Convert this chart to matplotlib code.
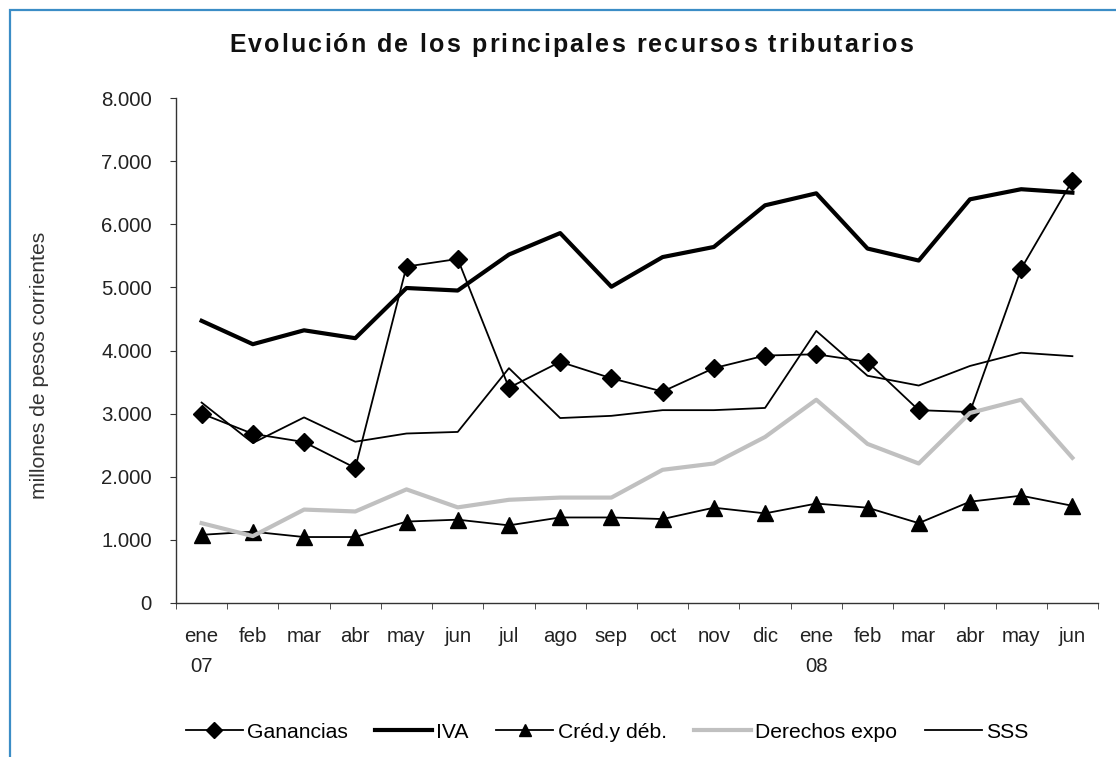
import matplotlib
matplotlib.use("Agg")
import matplotlib.pyplot as plt
from matplotlib.patches import Rectangle
from matplotlib.ticker import FuncFormatter

plt.rcParams['font.family'] = ['Liberation Sans', 'DejaVu Sans']

titulo = 'Evolución de los principales recursos tributarios'

meses = ["ene\n07", "feb", "mar", "abr", "may", "jun", "jul", "ago", "sep",
         "oct", "nov", "dic", "ene\n08", "feb", "mar", "abr", "may", "jun"]

ganancias = [3000, 2680, 2550, 2140, 5330, 5450, 3410, 3820, 3560,
             3350, 3720, 3920, 3940, 3820, 3055, 3025, 5295, 6690]
iva = [4470, 4100, 4320, 4195, 4990, 4950, 5520, 5860, 5010,
       5480, 5640, 6300, 6490, 5615, 5425, 6395, 6555, 6500]
cred_deb = [1080, 1130, 1045, 1045, 1290, 1320, 1230, 1355, 1355,
            1330, 1510, 1420, 1575, 1510, 1265, 1605, 1700, 1540]
derechos = [1265, 1060, 1480, 1450, 1800, 1515, 1635, 1670, 1670,
            2110, 2210, 2630, 3220, 2520, 2210, 3010, 3220, 2300]
sss = [3175, 2535, 2940, 2555, 2685, 2710, 3720, 2930, 2965,
       3055, 3055, 3090, 4310, 3600, 3445, 3755, 3965, 3910]

x = list(range(len(meses)))
W, H = 1116, 757
fs = 14.7

fig = plt.figure(figsize=(W / 100, H / 100), dpi=100)
ax = fig.add_axes([176 / W, 1 - 603 / H, (1098 - 176) / W, (603 - 98) / H])

# frame around the chart (cut at right/bottom in the original)
fig.patches.append(Rectangle((9.5 / W, -0.05), 1.2, 1 - 9.5 / H + 0.05,
                             transform=fig.transFigure, fill=False,
                             edgecolor='#3b8dc6', linewidth=1.6))

ax.plot(x, ganancias, color='black', lw=1.3, marker='D', ms=9, label='Ganancias')
ax.plot(x, iva, color='black', lw=3.0, label='IVA')
ax.plot(x, cred_deb, color='black', lw=1.3, marker='^', ms=11, label='Créd.y déb.')
ax.plot(x, derechos, color='#c0c0c0', lw=3.0, label='Derechos expo')
ax.plot(x, sss, color='black', lw=1.3, label='SSS')

ax.set_xlim(-0.5, len(meses) - 0.5)
ax.set_ylim(0, 8000)
ax.set_yticks(range(0, 8001, 1000))
ax.yaxis.set_major_formatter(FuncFormatter(lambda v, p: f"{int(v):,}".replace(",", ".")))

ax.set_xticks(x)
ax.set_xticklabels(meses, linespacing=1.75, va='top')
ax.set_xticks([i - 0.5 for i in range(len(meses) + 1)], minor=True)
ax.tick_params(axis='x', which='major', length=0, pad=17, labelsize=fs, colors='#222222')
ax.tick_params(axis='x', which='minor', length=4.3, direction='out', color='#333333')
ax.tick_params(axis='y', length=4.3, direction='out', pad=13, labelsize=fs,
               colors='#222222', color='#333333')

for s in ['top', 'right']:
    ax.spines[s].set_visible(False)
for s in ['left', 'bottom']:
    ax.spines[s].set_color('#333333')
    ax.spines[s].set_linewidth(1.0)

ax.set_ylabel('millones de pesos corrientes', fontsize=15.2, color='#333333')
ax.yaxis.set_label_coords((49 - 176) / 922, (603 - 365) / 505)

# title with letter spacing, placed char by char
fig.canvas.draw()
r = fig.canvas.get_renderer()
tprops = dict(fontsize=18, fontweight='bold', color='#111111', va='center', ha='left')

def ancho(s):
    t = fig.text(0, 0, s + '|', **tprops)
    w = t.get_window_extent(r).width
    t.remove()
    return w

barra = ancho('')
total = ancho(titulo) - barra
objetivo = 684
track = (objetivo - total) / (len(titulo) - 1)
x0 = 571 - objetivo / 2
for i, ch in enumerate(titulo):
    xi = x0 + (ancho(titulo[:i]) - barra) + i * track
    fig.text(xi / W, 1 - 45 / H, ch, **tprops)

fig.legend(loc='center', bbox_to_anchor=(607 / W, 1 - 732 / H), ncol=5, frameon=False,
           fontsize=15.2, handlelength=2.7, handletextpad=0.2, columnspacing=1.3,
           markerscale=0.85)

fig.savefig('out.png', dpi=100)
